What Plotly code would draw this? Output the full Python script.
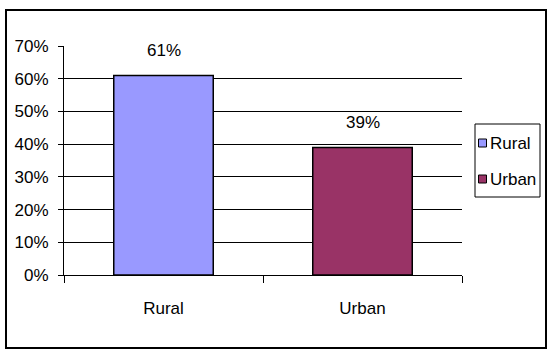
import plotly.graph_objects as go

categories = ["Rural", "Urban"]
values = [0.61, 0.39]
colors = ["#9999FF", "#993366"]
y_ticks = [0, 0.1, 0.2, 0.3, 0.4, 0.5, 0.6, 0.7]
y_tick_labels = ["0%", "10%", "20%", "30%", "40%", "50%", "60%", "70%"]

FONT = "Liberation Sans, Arial, sans-serif"
FS = 17

W, H = 552, 358
l, r, t, b = 64, 90, 46, 83
pw, ph = W - l - r, H - t - b
def px(x): return (x - l) / pw
def py(y): return (H - b - y) / ph

fig = go.Figure()
for i, (c, v) in enumerate(zip(categories, values)):
    fig.add_trace(go.Bar(
        x=[c], y=[v], name=c,
        marker=dict(color=colors[i], line=dict(color="black", width=1.5)),
        width=0.5, showlegend=False,
    ))
    fig.add_annotation(x=c, y=v, text=f"{round(v*100)}%", showarrow=False,
                       yshift=25, font=dict(family=FONT, size=FS, color="black"))

# outer border
fig.add_shape(type="rect", xref="paper", yref="paper",
              x0=px(6), x1=px(546), y0=py(348), y1=py(10),
              line=dict(color="black", width=2), fillcolor="rgba(0,0,0,0)", layer="below")

# legend (box, swatches, labels)
fig.add_shape(type="rect", xref="paper", yref="paper",
              x0=px(475), x1=px(540), y0=py(197), y1=py(124),
              line=dict(color="black", width=1), fillcolor="white")
leg_y = [143, 179]
for i, c in enumerate(categories):
    fig.add_shape(type="rect", xref="paper", yref="paper",
                  x0=px(478.5), x1=px(486.5), y0=py(leg_y[i] + 4), y1=py(leg_y[i] - 4),
                  line=dict(color="black", width=1), fillcolor=colors[i])
    fig.add_annotation(xref="paper", yref="paper", x=px(488), y=py(leg_y[i]),
                       xanchor="left", yanchor="middle", text=c, showarrow=False,
                       font=dict(family=FONT, size=FS, color="black"))

fig.update_layout(
    width=W, height=H,
    margin=dict(l=l, r=r, t=t, b=b, autoexpand=False),
    paper_bgcolor="white", plot_bgcolor="white",
    font=dict(family=FONT, size=FS, color="black"),
    showlegend=False,
    xaxis=dict(type="category", showline=True, linecolor="black", linewidth=1,
               ticks="outside", tickson="boundaries", ticklen=7, tickcolor="black",
               showgrid=False, ticklabelstandoff=18),
    yaxis=dict(range=[0, 0.7], tickvals=y_ticks, ticktext=y_tick_labels,
               showline=True, linecolor="black", linewidth=1,
               ticks="outside", ticklen=5, tickcolor="black",
               showgrid=True, gridcolor="black", gridwidth=1, zeroline=False,
               ticklabelstandoff=6),
)
fig.write_html("out.html")
